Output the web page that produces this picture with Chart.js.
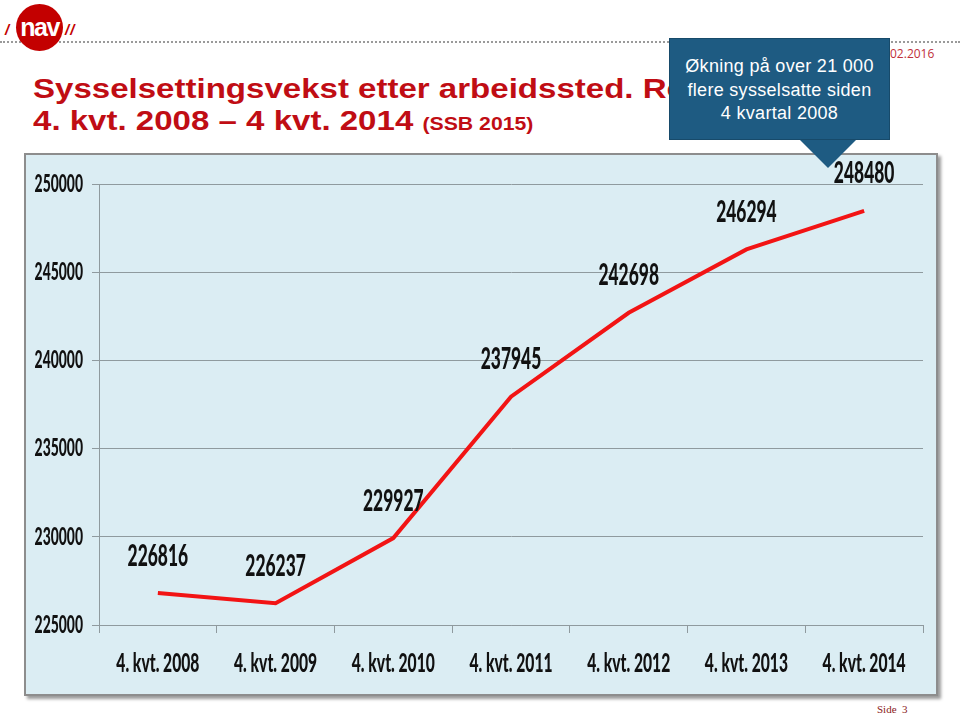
<!DOCTYPE html>
<html>
<head>
<meta charset="utf-8">
<script src="https://cdn.jsdelivr.net/npm/chart.js@4/dist/chart.umd.min.js"></script>
<style>
  body { margin: 0; width: 960px; height: 717px; position: relative; background: #fff; overflow: hidden; font-family: 'Liberation Sans', Arial, sans-serif; }
  .dots { position: absolute; left: 0; top: 41px; width: 960px; border-top: 2px dotted #9a9a9a; }
  .logo { position: absolute; left: 16px; top: 4px; width: 47px; height: 47px; border-radius: 50%; background: #c30000; color: #fff;
          font: bold 25px/47px 'Liberation Sans', Arial, sans-serif; text-align: center; letter-spacing: -1.5px; }
  .slash { position: absolute; top: 21px; color: #c30000; font: italic bold 15px 'Liberation Sans', Arial, sans-serif; letter-spacing: 1px; }
  .title { position: absolute; left: 33px; top: 73px; color: #c00d14; font: bold 28px/32px 'Liberation Sans', Arial, sans-serif; white-space: nowrap;
           transform: scaleX(1.18); transform-origin: 0 0; }
  .title small { font-size: 18px; }
  .date { position: absolute; left: 890px; top: 45px; color: #c0303a; font: 12px 'Open Sans', sans-serif; }
  .callout { position: absolute; left: 669px; top: 38px; width: 221px; height: 102px; background: #1e5b82; border: 1px solid #174a6a; box-sizing: border-box;
             color: #fff; font: 18px/23.5px 'Liberation Sans', Arial, sans-serif; text-align: center; padding-top: 16px; z-index: 5; letter-spacing: 0.3px; }
  .callout:after { content: ''; position: absolute; left: 130px; top: 101px; border-left: 28px solid transparent; border-right: 28px solid transparent; border-top: 28px solid #1e5b82; width: 0; height: 0; }
  .frame { position: absolute; left: 24px; top: 153px; width: 914px; height: 543px; background: #dbedf3; border: 2px solid #8d8d8d; box-sizing: border-box; box-shadow: 3px 3px 3px #9b9b9b; }
  .frame canvas { display: block; }
  .side { position: absolute; left: 877px; top: 703px; color: #8b1a1a; font: 11px 'Liberation Serif', serif; }
</style>
</head>
<body>
<div class="dots"></div>
<div class="slash" style="left:5px">/</div>
<div class="logo">nav</div>
<div class="slash" style="left:65px">//</div>
<div class="title">Sysselsettingsvekst etter arbeidssted. Rogaland<br>4. kvt. 2008 – 4 kvt. 2014 <small>(SSB 2015)</small></div>
<div class="date">02.2016</div>
<div class="callout">Økning på over 21 000<br>flere sysselsatte siden<br>4 kvartal 2008</div>
<div class="frame"><canvas id="chart" width="910" height="539"></canvas></div>
<div class="side">Side&nbsp; 3</div>

<script>
const categories = ['4. kvt. 2008', '4. kvt. 2009', '4. kvt. 2010', '4. kvt. 2011', '4. kvt. 2012', '4. kvt. 2013', '4. kvt. 2014']
const employed = [226816, 226237, 229927, 237945, 242698, 246294, 248480]
const yMin = 225000
const yMax = 250000
const yStep = 5000

const fontFamily = "Lato, 'Open Sans', sans-serif"

// the picture in the slide is squeezed sideways, so all chart text is drawn narrow
const canvas = document.getElementById('chart')
const ctx = canvas.getContext('2d')
const plainFillText = ctx.fillText
ctx.fillText = function (text, x, y, maxWidth) {
    this.save()
    this.translate(x, y)
    this.scale(0.58, 1)
    if (maxWidth === undefined) plainFillText.call(this, text, 0, 0)
    else plainFillText.call(this, text, 0, 0, maxWidth / 0.58)
    this.restore()
}

// value labels above each point
const valueLabels = {
    id: 'valueLabels',
    afterDatasetsDraw(chart) {
        const c = chart.ctx
        const meta = chart.getDatasetMeta(0)
        c.save()
        c.font = '900 30px ' + fontFamily
        c.fillStyle = '#111'
        c.textAlign = 'center'
        c.textBaseline = 'middle'
        meta.data.forEach((pt, i) => {
            c.fillText(String(chart.data.datasets[0].data[i]), pt.x, pt.y - 37)
        })
        c.restore()
    }
}

new Chart(ctx, {
    type: 'line',
    data: {
        labels: categories,
        datasets: [{
            data: employed,
            borderColor: '#f21414',
            borderWidth: 4,
            pointRadius: 0,
            tension: 0,
            fill: false
        }]
    },
    options: {
        responsive: false,
        animation: false,
        layout: { padding: { top: 29, right: 13, left: 0, bottom: 0 } },
        plugins: { legend: { display: false }, tooltip: { enabled: false } },
        scales: {
            x: {
                offset: true,
                grid: { offset: true, drawOnChartArea: false, color: '#8f9a9e', tickLength: 8 },
                border: { color: '#8f9a9e' },
                ticks: { color: '#111', padding: 14, autoSkip: false, maxRotation: 0, font: { family: fontFamily, size: 27, weight: 900 } },
                afterFit: s => {
                    s.height = 69
                    s.paddingLeft = 0
                    s.paddingRight = 0
                }
            },
            y: {
                min: yMin,
                max: yMax,
                ticks: { stepSize: yStep, color: '#111', padding: 9, callback: v => String(v), font: { family: fontFamily, size: 24, weight: 900 } },
                grid: { color: '#8f9a9e', tickLength: 7 },
                border: { color: '#8f9a9e' },
                afterFit: s => {
                    s.width = 73
                    s.paddingTop = 0
                    s.paddingBottom = 0
                }
            }
        }
    },
    plugins: [valueLabels]
})
</script>
</body>
</html>
